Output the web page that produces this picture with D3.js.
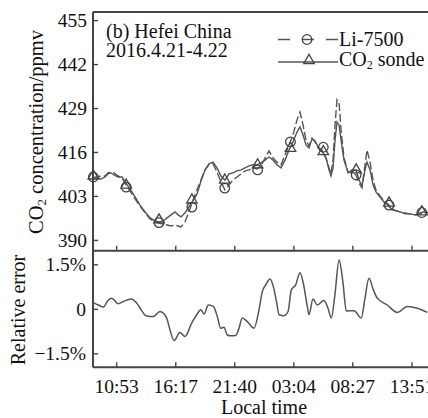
<!DOCTYPE html>
<html>
<head>
<meta charset="utf-8">
<script src="https://cdn.jsdelivr.net/npm/d3@7"></script>
<style>
  body { margin: 0; background: #fff; }
  svg { display: block; }
  text { font-family: "Liberation Serif", "Times New Roman", serif; fill: #111; }
</style>
</head>
<body>
<svg id="chart" width="428" height="418"></svg>
<script>
// local time in hours from 2016.4.21 00:00
const hours = [8.77,9.14,9.50,9.87,10.14,10.41,10.69,11.05,11.42,11.78,
               12.15,12.61,13.06,13.52,13.98,14.43,14.80,15.16,15.53,15.89,
               16.26,16.53,16.81,17.17,17.54,17.90,18.27,18.63,19.00,19.36,
               19.73,20.09,20.46,20.82,21.19,21.55,21.92,22.29,22.65,23.02,
               23.38,23.75,24.11,24.48,24.84,25.21,25.57,25.94,26.30,26.67,
               27.03,27.40,27.67,27.95,28.22,28.49,28.77,29.04,29.32,29.68,
               30.05,30.32,30.50,30.69,30.87,31.05,31.24,31.42,31.69,32.06,
               32.42,32.79,33.06,33.33,33.61,33.79,34.07,34.34,34.61,34.98,
               35.34,35.71,36.08,36.44,36.81,37.26,37.72,38.17,38.63,38.99,
               39.36];
const sonde = [408.6,408.3,408.0,408.6,409.5,409.8,409.2,408.6,408.6,406.8,
               405.1,402.7,400.3,398.3,396.5,395.6,395.3,395.6,396.5,397.4,
               398.3,397.4,396.8,398.0,399.8,401.5,403.6,407.4,410.7,412.5,
               413.0,411.3,408.9,407.7,409.5,409.8,410.4,410.7,411.3,411.9,
               412.2,412.2,412.8,413.6,414.5,413.6,412.2,411.3,413.6,416.6,
               419.0,421.9,423.4,421.0,418.1,417.2,419.8,419.3,417.5,416.3,
               414.2,410.7,408.9,411.3,419.5,424.9,424.0,419.5,413.6,409.8,
               410.7,410.7,407.7,406.0,410.7,413.0,410.7,406.3,404.2,402.7,
               401.2,400.3,398.9,398.6,398.3,397.7,397.7,397.4,398.0,398.3,
               398.0];
const li7500 = [408.3,408.6,408.9,408.9,409.8,410.1,409.8,408.9,408.3,406.3,
                404.5,402.1,400.0,398.0,396.2,395.3,395.0,394.7,394.4,394.1,
                394.4,394.1,393.8,395.3,398.3,401.8,404.8,407.7,410.7,412.2,
                412.5,410.1,407.1,404.8,406.3,407.7,408.6,409.5,410.4,410.7,
                411.3,411.0,411.9,414.2,416.3,414.2,413.0,412.2,415.1,418.1,
                421.0,425.5,427.8,424.0,419.5,417.8,420.1,419.0,417.2,416.6,
                414.2,411.3,409.5,413.6,424.0,431.4,430.5,422.5,414.2,410.1,
                410.1,409.2,406.8,405.4,412.2,416.6,413.0,407.7,404.8,403.0,
                401.5,400.6,399.2,398.6,398.3,398.0,397.7,397.4,397.7,398.0,
                398.0];

const markerHours = [8.8,11.8,14.8,17.8,20.8,23.8,26.8,29.8,32.8,35.8,38.8];
const li7500Markers = [408.6,405.6,395.1,399.7,405.3,410.7,419.0,417.4,409.2,400.3,398.1];
const sondeMarkers = [408.9,406.2,395.9,401.8,407.7,412.2,417.1,416.1,410.7,400.9,398.3];

const errHours = [8.80,9.25,9.71,10.17,10.48,11.08,11.54,12.30,12.76,13.67,
                  14.28,14.89,15.50,15.80,16.17,16.71,17.17,17.78,18.24,18.61,
                  18.91,19.30,19.76,20.12,20.43,20.73,21.03,21.34,21.80,22.10,
                  22.40,22.86,23.47,23.93,24.23,24.54,24.93,25.24,25.55,25.76,
                  26.21,26.58,26.88,27.28,27.67,27.97,28.34,28.49,28.86,29.25,
                  29.86,30.23,30.53,30.84,31.24,31.60,31.90,32.61,33.27,33.58,
                  33.97,34.37,34.73,35.64,36.56,37.47,38.39,39.30];
const relError = [0.21,0.13,0.06,0.30,0.36,0.17,0.25,0.33,0.19,-0.24,
                  -0.26,-0.09,-0.31,-0.71,-1.07,-0.80,-0.93,-0.48,-0.20,-0.03,
                  -0.17,0.13,0.08,-0.26,-0.65,-0.62,-0.88,-0.91,-0.90,-0.65,
                  -0.31,-0.43,-0.65,-0.03,0.58,0.81,1.01,0.75,0.19,-0.20,
                  -0.23,-0.09,0.64,0.81,1.22,0.87,0.08,-0.20,0.33,0.13,
                  0.28,0.02,-0.31,0.41,1.65,0.87,-0.07,-0.06,-0.31,0.30,
                  1.03,0.64,0.36,0.13,-0.12,0.08,0.02,-0.12];

const timeTicks = [10.883,16.283,21.667,27.067,32.45,37.85];
const timeLabels = ["10:53","16:17","21:40","03:04","08:27","13:51"];
const co2Ticks = [390,403,416,429,442,455];
const errTicks = [-1.5,0,1.5];
const errLabels = ["\u22121.5%","0","1.5%"];

const svg = d3.select('#chart');
const ink = '#444';
const lineColor = '#555';

const x = d3.scaleLinear().domain([8.77, 39.36]).range([93, 428]);
const yTop = d3.scaleLinear().domain([386.8, 457.4]).range([250.7, 12]);
const yErr = d3.scaleLinear().domain([-1.97, 1.96]).range([367.3, 250.7]);

// axes
const styleAxis = g => {
  g.select('.domain').remove();
  g.selectAll('.tick line').attr('stroke', ink).attr('stroke-width', 1.4);
  g.selectAll('.tick text').attr('font-size', 19.5).attr('font-family', '"Liberation Serif", serif').attr('fill', '#111');
};

svg.append('g')
    .attr('transform', 'translate(93,0)')
    .call(d3.axisLeft(yTop).tickValues(co2Ticks).tickSize(-5).tickPadding(6))
    .call(styleAxis);

svg.append('g')
    .attr('transform', 'translate(0,250.7)')
    .call(d3.axisBottom(x).tickValues(timeTicks).tickFormat('').tickSize(-5))
    .call(styleAxis);

svg.append('g')
    .attr('transform', 'translate(93,0)')
    .call(d3.axisLeft(yErr).tickValues(errTicks).tickFormat((d, i) => errLabels[i]).tickSize(-5).tickPadding(7))
    .call(styleAxis);

svg.append('g')
    .attr('transform', 'translate(0,367.3)')
    .call(d3.axisBottom(x).tickValues(timeTicks).tickFormat((d, i) => timeLabels[i]).tickSize(-5).tickPadding(12))
    .call(styleAxis);

// frame
const frame = [[93, 12, 93, 367.3], [93, 12, 440, 12], [93, 250.7, 440, 250.7], [93, 367.3, 440, 367.3]];
svg.append('g')
    .selectAll('line')
    .data(frame)
    .join('line')
    .attr('x1', d => d[0]).attr('y1', d => d[1])
    .attr('x2', d => d[2]).attr('y2', d => d[3])
    .attr('stroke', ink)
    .attr('stroke-width', 2);

// CO2 lines
const topLine = d3.line().x(d => x(d[0])).y(d => yTop(d[1]));
svg.append('path')
    .datum(d3.zip(hours, sonde))
    .attr('d', topLine)
    .attr('fill', 'none')
    .attr('stroke', lineColor)
    .attr('stroke-width', 1.4);
svg.append('path')
    .datum(d3.zip(hours, li7500))
    .attr('d', topLine)
    .attr('fill', 'none')
    .attr('stroke', lineColor)
    .attr('stroke-width', 1.4)
    .attr('stroke-dasharray', '8,3');

const triangle = d3.symbol(d3.symbolTriangle, 48);
svg.append('g')
    .selectAll('path')
    .data(d3.zip(markerHours, sondeMarkers))
    .join('path')
    .attr('d', triangle)
    .attr('transform', d => `translate(${x(d[0])},${yTop(d[1])})`)
    .attr('fill', 'none')
    .attr('stroke', ink)
    .attr('stroke-width', 1.3);
svg.append('g')
    .selectAll('circle')
    .data(d3.zip(markerHours, li7500Markers))
    .join('circle')
    .attr('cx', d => x(d[0]))
    .attr('cy', d => yTop(d[1]))
    .attr('r', 4.8)
    .attr('fill', 'none')
    .attr('stroke', ink)
    .attr('stroke-width', 1.3);

// relative error
svg.append('path')
    .datum(d3.zip(errHours, relError))
    .attr('d', d3.line().curve(d3.curveMonotoneX).x(d => x(d[0])).y(d => yErr(d[1])))
    .attr('fill', 'none')
    .attr('stroke', lineColor)
    .attr('stroke-width', 1.5);

// title
svg.append('text').attr('x', 106).attr('y', 37.5).attr('font-size', 20).text('(b) Hefei China');
svg.append('text').attr('x', 106).attr('y', 56.5).attr('font-size', 20).text('2016.4.21-4.22');

// legend
const legend = svg.append('g');
legend.append('line')
    .attr('x1', 278).attr('x2', 338).attr('y1', 39.5).attr('y2', 39.5)
    .attr('stroke', lineColor).attr('stroke-width', 1.4).attr('stroke-dasharray', '12,12');
legend.append('circle')
    .attr('cx', 307).attr('cy', 39.5).attr('r', 4.8)
    .attr('fill', 'none').attr('stroke', ink).attr('stroke-width', 1.3);
legend.append('text').attr('x', 339).attr('y', 45.5).attr('font-size', 20).text('Li-7500');
legend.append('line')
    .attr('x1', 278).attr('x2', 338).attr('y1', 62).attr('y2', 62)
    .attr('stroke', lineColor).attr('stroke-width', 1.4);
legend.append('path')
    .attr('d', triangle)
    .attr('transform', 'translate(309,60.5)')
    .attr('fill', 'none').attr('stroke', ink).attr('stroke-width', 1.3);
const sondeText = legend.append('text').attr('x', 339).attr('y', 65.5).attr('font-size', 20);
sondeText.append('tspan').text('CO');
sondeText.append('tspan').attr('font-size', 12).attr('dy', 3).text('2');
sondeText.append('tspan').attr('dy', -3).text(' sonde');

// axis titles
const co2Label = svg.append('text')
    .attr('transform', 'translate(43,132) rotate(-90)')
    .attr('text-anchor', 'middle')
    .attr('font-size', 20.5);
co2Label.append('tspan').text('CO');
co2Label.append('tspan').attr('font-size', 13).attr('dy', 3).text('2');
co2Label.append('tspan').attr('dy', -3).text(' concentration/ppmv');

svg.append('text')
    .attr('transform', 'translate(25,310) rotate(-90)')
    .attr('text-anchor', 'middle')
    .attr('font-size', 20)
    .text('Relative error');

svg.append('text')
    .attr('x', 264).attr('y', 414)
    .attr('text-anchor', 'middle')
    .attr('font-size', 20)
    .text('Local time');
</script>
</body>
</html>
